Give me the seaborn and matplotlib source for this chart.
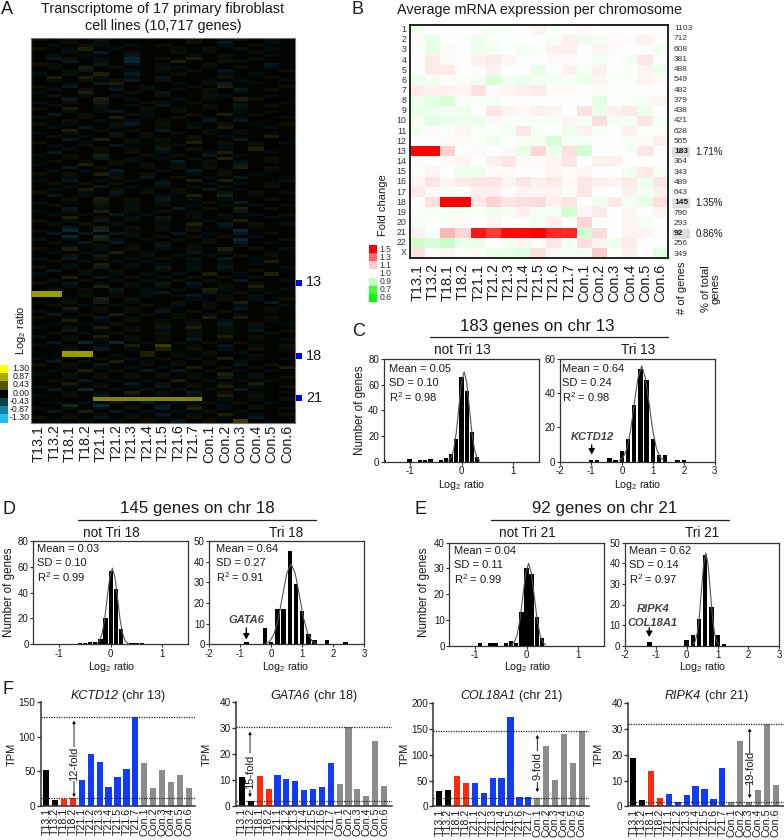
import numpy as np
import pandas as pd
import matplotlib
matplotlib.use("Agg")
import matplotlib.pyplot as plt
from matplotlib.colors import LinearSegmentedColormap, TwoSlopeNorm
from matplotlib.patches import Rectangle
import seaborn as sns

# ---------------- data ----------------
samples = ["T13.1","T13.2","T18.1","T18.2","T21.1","T21.2","T21.3","T21.4","T21.5","T21.6","T21.7",
           "Con.1","Con.2","Con.3","Con.4","Con.5","Con.6"]
# Panel A: rows read coarsely as levels a/b/c (blue), x/y/z (yellow), H/I (bright band)
heat_levels = {".":.02,"a":-.09,"b":-.17,"c":-.27,"x":.08,"y":.15,"z":.3,"H":.8,"I":.68}
heat_rows = [
"a.a.x.....x.ax.a.","..x.a.....x.b..a.",".a.xa.a.x...a.x..","x.ay.a...a.x.a.a.","..a.b.x..x.a..x..",
".a.a..b...a.x..a.",".bx.a.c.x.y.a.a..","..b.x.c..y..xa...","xa..b.a.a..x...b.",".x.y.x..xa.a.x.a.",
"..ab..a.a.x.b...x","a.x.y.b..x..a.a..",".y.ya.a.b...x..x.",".a.x.xb.x..a.a..a","..a.by...a.xb.a..",
"x.b..a.x..a.y...x",".a.x.b.a.a.x.b.x.","a..y..x.b..a.a...",".x.a.a..x..xa..a.","..b.y.a..a.a.yx..",
"a.x.b..xa.x..a..a",".a..x.a.b..x.b.x.","x.y.a..x.a.a.x...","..a.ab.a.x...a.a.",".b.x..xa..x.y.x..",
"a..x.y.a.x.a.a..a","..x.a.a.a..b.b...","x.a..xb.x.a.x.a.x",".a.b.a..a.x.y..a.","..y.x.x.b..a.a...",
"a.a..b.x.a.x.x.a.",".x.a.x.a..x.a..y.","..b.y.a.x.a..b...","x..a..x.a.y.x.a.a",".a.x.b..xa..a.x..",
"..a.x.a.b.x.a.y..",".b..a.x.a..ay..a.","a.x.y..x.x.b.a...","..a.b.a.a.a.y..x.",".x.a.xa..b.x.a.a.",
"a..y.a.x.a.a.b...","..b.x..a.x.x.y.x.",".a.a.b..a.b.a..a.","x.x.ya.x..a.x.a..","..a..x.b.x.a.b..a",
"a.b.a.a.a.y.y...x",".x.x.x..b..a.a.a.","..a.b.a.x.a.x..x.",".a.y.x.a.x.b.a...","x..a.b.x.a..b.x.a",
".b.a.a..a.y.y.a..","..x.y.x.b.a.a..x.","a.a.b.a.x..x.b...",".x..x.a.a.a.a.a.a","..b.a.x..b.x.y.x.",
"a.x.y.a.x.a..b...",".a.a.b.a..x.x.a.x","..y.x.x.b.a.a..a.","x.a.b.a.x..a.y...",".a.x.a..a.y.b.x.a",
"..b.y.x.x.a.a.a..","a.c.c.a.a.x..c...",".b.b.bx..b.a.b.x.","..c.c.a.x.x.x.a..","a.a.ya.a.a.a.c..x",
".x.b.b..x..x.b.a.","..a.x.a.b.a..a...","x.y.a.x.a.x.y.x.a",".a.a.y.a..b.a..a.","..x.b..x.a.a.x.x.",
"a.b.x.a.x.x.b.a..",".x.a.a.a..a.a..y.","..a.y.x.a.a.x.a..","x.a.b.a.b.x.b...a",".b.x.x..x.a.a.x..",
"a..a.a.a.a.y.a.y.","..y.b.x.a.x.x.a..",".a.x.a.a.x.a.b..a","x.b.a.x.b.b.a.x..","..a.y.a.x.a.x.y..",
".x.x.b.a.a.ya.a.a",
"HH.a.x.ab..b.x.a.","HH.x.a.a.ab.a.a..",
"..a.y.x...a.x.a.x","a.x.b.a..x.a.y.b.",".x.a.a.x.a.x.a..a","..y.x.x.a..a.b.x.",
"a.a.a.a.b.x.x..a.",".b.x.y.x.a.a.a...","x.a.b.a..x.y.y.x.","..y.a.x.a.a.a..a.",".a.a.x..x.x.b.x.a",
"a.x.y.a.b.y.a.a..","..b.a.x.a.a.x.b.x",".x.a.x..x.x.a..a.","a.a.y.a.a.a.y.x..","..x.a.x.x.b.a.a.a",
".b.c.c.a.a.x.x...","a.a.a.y.z.a.b.a.x","..x.b.a.y.x.a.x.a",
"..HH...y.a.x.a...","..HH.a.y.x.a..x..",
"a.a.x.a.x.a.y.a.a",".b.a.y.a.a.x.a...","x.x.b..x.x.a.b.x.","..a.a.a.a.y.x.a.y",".a.y.x.b.b.a.a.a.",
"a.x.a.a.x.a.y.x..","..a.x.x.a.x.b.a.x",".x.b.a.a.y.a.a.a.","..y.a.b.x.a.x.y..","a.a.x.a.b.x.y.a.x",
".b.c.a.x.x.a.b...","..a.a.y.a.b.x.a.a","a.x.b.a.a.x.y.x..",
"....IIIIIII.a.a.x",
".a.a.x.b.a.x.x.a.","..c.c.a.b.x.a.a..","a.x.a.x.b.y.a.x.a",".b.y.b.a.a.x.a...","..a.a.a.b.a.y.a.x",
"x.x.b.x.a.x.a.b..",".a.a.a.x.b.x.z.a.",
]
heat_ticks = [1.30, 0.87, 0.43, 0.00, -0.43, -0.87, -1.30]
chr_marks = ["13", "18", "21"]

chromosomes = [str(i) for i in range(1, 23)] + ["X"]
n_genes = [1103,712,608,381,488,549,482,379,438,421,628,565,183,364,343,489,643,145,790,293,92,256,349]
fold_change = [
[.98,1,1,1,1,.99,.99,1,1.02,.99,1,1.01,1,1,1,1,1],
[1.01,.96,1,.99,.97,.99,1,1,1,.99,1.03,.97,.98,1.01,1.01,1.03,1],
[.99,.96,1.01,1,.97,.98,1,.98,.99,1.03,1.03,1,1.02,1.01,1,1,.98],
[1,1.04,1.01,1,1.03,1.04,1.02,1,1,1.01,1.01,1,.98,1,.98,1.05,1],
[1,1.04,1.04,1,1.01,1.03,1,1,.96,1,1.03,.98,1.03,1,.99,1.02,.97],
[.97,.98,1,.99,.98,.94,.98,.97,.98,.98,.99,.97,1.02,.99,.99,1.02,1.01],
[1.04,1.03,1.03,1.02,1.06,1.01,1.02,1.03,1.04,1.01,1.01,1,1.01,.99,.99,1,1],
[.97,.95,.94,.99,.99,.98,1,1,1,1,1,1,.95,1,.99,.98,1.02],
[.96,.97,.98,.97,1,1.05,1.02,1.01,1.03,1.02,1,1.06,.96,1.03,1.04,.97,1],
[.98,.95,.97,.97,.97,1.01,.99,.99,.99,.99,1.02,.98,1.07,.98,.98,1.05,.98],
[.98,1.01,.99,1.02,.99,1,.98,1.05,.99,1,.97,1.03,.98,1,1.03,.99,.99],
[1,1,1.01,1.01,.99,.97,1,.98,.98,.94,.99,.98,1,1,.98,1.01,1.03],
[1.5,1.5,1.09,1,1.01,1,1.01,.96,1.08,.97,1.06,.93,1,1,.99,1.05,1],
[1.01,1,1.01,1.02,1,1.03,1.05,1.01,1.01,1.02,1.05,1,1.03,1.03,1,1,1],
[.99,1.02,1,.97,.97,1.01,1.01,1,1,1.02,1.01,1.02,1,1,.98,1.04,.98],
[1.02,1.05,1.02,1.04,1.05,1.05,1.02,1.05,1.03,1.04,1.01,1.05,1.03,1.02,1.04,.97,1.05],
[1.04,1.01,.99,.99,1.03,1.03,1,1.02,1.02,1.02,.99,1.05,.99,1,1.03,.98,1.03],
[1,1.06,1.5,1.5,1.04,1.09,1.05,1.06,1.07,1.03,1.05,1,.97,1.04,.98,.96,1.06],
[.99,.98,.98,.98,.99,.97,.98,1.03,.98,.98,.93,1.02,1.04,1,1.02,1,1.02],
[.98,1,.99,1.01,1,1.02,1,1,.98,1.03,.99,1.08,.99,1,1.02,.98,1],
[1.03,1,1.14,1.08,1.45,1.38,1.48,1.48,1.5,1.42,1.42,.93,1.07,1,1.02,1.02,.99],
[.92,.94,.91,.96,.96,1,.98,1.02,1,1.05,.98,1.06,1.02,.97,1.04,1,1],
[1.06,1,1.02,.99,1.01,.96,.96,.95,1.06,1.01,.98,.98,1.1,1,1.03,1,.95],
]
fold_ticks = [1.5, 1.3, 1.1, 1.0, 0.9, 0.7, 0.6]

# Histograms: bins, counts, fitted-curve points
c_l_bins = [-1.5,-1,-.8,-.7,-.6,-.4,-.3,-.2,-.1,0,.1,.2,.3]
c_l_cnt  = [1,2,1,1,2,1,3,6,18,66,55,23,4]
c_l_cx   = [-.25,-.2,-.15,-.1,-.05,0,.05,.1,.15,.2,.25,.3,.35]
c_l_cy   = [.8,3,9.5,23,42.5,62,70,62,42.5,23,9.5,3,.8]
c_r_bins = [-1,-.8,-.4,-.2,0,.2,.4,.6,.8,1,1.2,1.4,1.8,2]
c_r_cnt  = [1,1,2,1,6,13,33,54,48,13,4,4,1,1]
c_r_cx   = [-.08,.04,.16,.28,.4,.52,.64,.76,.88,1,1.12,1.24,1.36]
c_r_cy   = [.6,2.5,7.5,18,34,49,56,49,34,18,7.5,2.5,.6]
d_l_bins = [-.6,-.5,-.4,-.3,-.2,-.1,0,.1,.2,.4,.5,.6]
d_l_cnt  = [1,1,2,2,4,20,57,43,12,1,1,1]
d_l_cx   = [-.27,-.22,-.17,-.12,-.07,-.02,.03,.08,.13,.18,.23,.28,.33]
d_l_cy   = [.6,2.6,8,19,36,52,59,52,36,19,8,2.6,.6]
d_r_bins = [-.8,-.2,0,.2,.4,.6,.8,1,1.2,1.4,1.8,2.4]
d_r_cnt  = [1,8,1,17,17,45,29,16,5,2,2,1]
d_r_cx   = [-.17,-.035,.1,.235,.37,.505,.64,.775,.91,1.045,1.18,1.315,1.45]
d_r_cy   = [.4,1.7,5.3,12.7,23.7,34.4,39,34.4,23.7,12.7,5.3,1.7,.4]
e_l_bins = [-.9,-.7,-.6,-.4,-.3,-.2,-.1,0,.1,.2,.3]
e_l_cnt  = [1,1,1,1,2,1,13,30,28,11,3]
e_l_cx   = [-.29,-.235,-.18,-.125,-.07,-.015,.04,.095,.15,.205,.26,.315,.37]
e_l_cy   = [.35,1.4,4.3,10.4,19.4,28.2,32,28.2,19.4,10.4,4.3,1.4,.35]
e_r_bins = [-1.2,0,.2,.4,.6,.8,1,1.2]
e_r_cnt  = [2,3,5,13,44,19,5,1]
e_r_cx   = [.2,.27,.34,.41,.48,.55,.62,.69,.76,.83,.9,.97,1.04]
e_r_cy   = [.5,2,6,14.6,27.3,39.7,45,39.7,27.3,14.6,6,2,.5]

kctd12  = [52,8,10,11,37,75,64,27,41,53,128,62,25,52,34,45,25]
gata6   = [11,2,11.3,6.5,12,10.2,9.5,6,6.5,7.2,16.5,8.3,30.6,6.3,3.6,25,7.5]
col18a1 = [30,32,58,45,45,26,55,55,174,19,18,16,118,52,141,84,146]
ripk4   = [18.7,2.5,13.7,3.1,4.8,1.8,4.4,7.9,6.6,2.9,14.9,1.8,25.3,1.7,6.4,31.8,8.4]
groups  = ["T13"]*2 + ["T18"]*2 + ["T21"]*7 + ["Con"]*6
group_colors = {"T13":"#000000","T18":"#ff2a0a","T21":"#0f3cff","Con":"#8c8c8c"}

# ---------------- set-up ----------------
W, H = 784, 840
sns.set_theme(style="ticks")
plt.rcParams.update({
    "font.family": "Liberation Sans", "mathtext.fontset": "custom",
    "mathtext.rm": "Liberation Sans", "mathtext.it": "Liberation Sans:italic",
    "mathtext.bf": "Liberation Sans:bold", "mathtext.default": "regular",
    "text.color": "#1a1a1a", "axes.labelcolor": "#1a1a1a",
    "xtick.color": "#1a1a1a", "ytick.color": "#1a1a1a",
})
fig = plt.figure(figsize=(W/100, H/100), dpi=100, facecolor="white")
renderer = fig.canvas.get_renderer()

def px_axes(x0, y0, x1, y1):
    return fig.add_axes([x0/W, 1-y1/H, (x1-x0)/W, (y1-y0)/H])

over = fig.add_axes([0, 0, 1, 1], zorder=20)
over.set_xlim(0, W); over.set_ylim(H, 0); over.axis("off")

def txt(x, y, s, size=8, ha="left", va="center", **kw):
    return over.text(x, y, s, fontsize=size, ha=ha, va=va, **kw)

for lab, x, y in [("A",1,10),("B",352,10),("C",352,331),("D",3,509),("E",415,509),("F",3,689)]:
    txt(x, y, lab, 13)

# ---------------- Panel A ----------------
heat_a = np.array([[heat_levels[c] for c in r.ljust(17, ".")[:17]] for r in heat_rows])
cmap_a = LinearSegmentedColormap.from_list("by", ["#20c0f0", "#000000", "#ffff00"])
ax = px_axes(31, 38, 295, 422.5)
sns.heatmap(pd.DataFrame(heat_a, columns=samples), cmap=cmap_a, vmin=-1.3, vmax=1.3, cbar=False,
            xticklabels=samples, yticklabels=False, ax=ax)
ax.tick_params(axis="x", length=0, pad=1.5, labelsize=10.4, labelrotation=90)
for s in ax.spines.values():
    s.set_visible(True); s.set_color("#777777"); s.set_linewidth(.8)
txt(163, 9, "Transcriptome of 17 primary fibroblast", 10.4, ha="center")
txt(163, 26, "cell lines (10,717 genes)", 10.4, ha="center")
txt(21, 330, "Log$_2$ ratio", 8, ha="center", rotation=90)
for lab, y in zip(chr_marks, [283, 356, 398]):
    over.add_patch(Rectangle((296, y-3), 6, 6, color="#0000ff", lw=0))
    txt(306, y-.5, lab, 10.4)

ax = px_axes(0, 365, 8, 422.5)
sns.heatmap(np.array(heat_ticks).reshape(-1, 1), cmap=cmap_a, vmin=-1.3, vmax=1.3, cbar=False,
            xticklabels=False, yticklabels=False, ax=ax)
for i, v in enumerate(heat_ticks):
    txt(29.5, 368.6+i*8.17, f"{v:.2f}", 6.3, ha="right")

# ---------------- Panel B ----------------
norm_b = TwoSlopeNorm(vmin=.6, vcenter=1, vmax=1.5)
cmap_b = LinearSegmentedColormap.from_list("gwr", ["#00ff00", "#ffffff", "#ff0000"])
ax = px_axes(410, 24.5, 667.7, 258)
sns.heatmap(pd.DataFrame(fold_change, columns=samples, index=chromosomes), cmap=cmap_b, norm=norm_b,
            cbar=False, xticklabels=samples, yticklabels=chromosomes, ax=ax)
ax.tick_params(axis="x", length=0, pad=4, labelsize=10.4, labelrotation=90)
ax.tick_params(axis="y", length=0, pad=2.5, labelsize=6.3, labelrotation=0, labelcolor="#333333")
for s in ax.spines.values():
    s.set_visible(True); s.set_color("black"); s.set_linewidth(1.2)
txt(539.5, 10, "Average mRNA expression per chromosome", 10.4, ha="center")
pct = {"183": "1.71%", "145": "1.35%", "92": "0.86%"}
for i, n in enumerate(n_genes):
    y = 28.6 + i*10.25
    if str(n) in pct:
        over.add_patch(Rectangle((672, y-5), 18, 10, color="#dedede", lw=0))
        txt(674, y, str(n), 6, fontweight="bold")
        txt(695.7, y, pct[str(n)], 7)
    else:
        txt(674, y, str(n), 6, color="#333333")
txt(682, 262, "# of genes", 8, ha="center", va="top", rotation=90)
txt(711, 265, "% of total\ngenes", 8, ha="center", va="top", rotation=90, linespacing=.9)

ax = px_axes(369, 245, 377, 302)
sns.heatmap(np.array(fold_ticks).reshape(-1, 1), cmap=cmap_b, norm=norm_b, cbar=False,
            xticklabels=False, yticklabels=False, ax=ax)
for i, v in enumerate(fold_ticks):
    txt(379.5, 249+i*8.15, f"{v:.1f}", 6.2, color="#333333")
txt(383, 205, "Fold change", 8, ha="center", rotation=90)

# ---------------- Histograms ----------------
def hist(box, bins, cnt, cx, cy, xlim, xticks, ymax, yticks, stats, sx, sy, width):
    ax = px_axes(*box)
    sns.barplot(x=bins, y=cnt, native_scale=True, color="black", saturation=1, width=width,
                linewidth=0, ax=ax)
    sns.lineplot(x=cx, y=cy, sort=False, estimator=None, color="#555555", lw=.8, ax=ax)
    ax.set_xlim(*xlim); ax.set_ylim(0, ymax)
    ax.set_xticks(xticks); ax.set_yticks(yticks)
    ax.set_xticklabels([str(t) for t in xticks])
    ax.tick_params(axis="both", length=2.2, width=.8, pad=1.2, labelsize=7, color="#333333")
    for s in ax.spines.values():
        s.set_color("#333333"); s.set_linewidth(.9)
    for i, s in enumerate(stats):
        txt(sx, sy+i*13.8, s, 8)
    return ax

def header(cx, y, x0, x1, title, l_cx, left, r_cx, right):
    txt(cx, y, title, 12.2, ha="center")
    over.plot([x0, x1], [y+11, y+11], color="#222222", lw=.9)
    txt(l_cx, y+24, left, 9.8, ha="center")
    txt(r_cx, y+24, right, 9.8, ha="center")

def arrow(x, y0, y1, lw=1, ms=10):
    over.annotate("", xy=(x, y1), xytext=(x, y0), annotation_clip=False,
                  arrowprops=dict(arrowstyle="-|>,head_width=.18,head_length=.32", color="black",
                                  lw=lw, shrinkA=0, shrinkB=0, mutation_scale=ms))

gene_style = dict(fontweight="bold", fontstyle="italic", color="#444444")
log2 = "Log$_2$ ratio"

# C
header(537, 326, 430, 668, "183 genes on chr 13", 462, "not Tri 13", 637.7, "Tri 13")
hist((383.7,359,539.3,461.7), c_l_bins, c_l_cnt, c_l_cx, c_l_cy, (-1.5,1.5), [-1,0,1], 80, [0,20,40,60,80],
     ["Mean = 0.05","SD = 0.10","R$^2$ = 0.98"], 389.3, 369, .84)
hist((560,359,714.7,461.7), c_r_bins, c_r_cnt, c_r_cx, c_r_cy, (-2,3), [-2,-1,0,1,2,3], 60, [0,20,40,60],
     ["Mean = 0.64","SD = 0.24","R$^2$ = 0.98"], 562.5, 369, .72)
txt(360, 410, "Number of genes", 8.4, ha="center", rotation=90)
txt(462, 485, log2, 7.7, ha="center"); txt(638, 485, log2, 7.7, ha="center")
txt(592, 436.7, "KCTD12", 8, ha="center", **gene_style)
arrow(591.7, 445, 454.5)

# D
header(197, 509, 78, 316, "145 genes on chr 18", 111.7, "not Tri 18", 286, "Tri 18")
hist((33.3,541,188.3,644.3), d_l_bins, d_l_cnt, d_l_cx, d_l_cy, (-1.5,1.5), [-1,0,1], 80, [0,20,40,60,80],
     ["Mean = 0.03","SD = 0.10","R$^2$ = 0.99"], 36.7, 549.5, .84)
hist((209.3,541,364,644.3), d_r_bins, d_r_cnt, d_r_cx, d_r_cy, (-2,3), [-2,-1,0,1,2,3], 50, [0,10,20,30,40,50],
     ["Mean = 0.64","SD = 0.27","R$^2$ = 0.91"], 215.7, 549.5, .72)
txt(9.5, 592.7, "Number of genes", 8.4, ha="center", rotation=90)
txt(111.7, 667, log2, 7.7, ha="center"); txt(286, 667, log2, 7.7, ha="center")
txt(246.5, 620, "GATA6", 8, ha="center", **gene_style)
arrow(246.3, 628, 639.5)

# E
header(604.3, 509, 491, 728.7, "92 genes on chr 21", 527, "not Tri 21", 702, "Tri 21")
hist((449.3,542.7,603.7,645.7), e_l_bins, e_l_cnt, e_l_cx, e_l_cy, (-1.5,1.5), [-1,0,1], 40, [0,10,20,30,40],
     ["Mean = 0.04","SD = 0.11","R$^2$ = 0.99"], 454.3, 551, .84)
hist((625,542.7,779.3,645.7), e_r_bins, e_r_cnt, e_r_cx, e_r_cy, (-2,3), [-2,-1,0,1,2,3], 50, [0,10,20,30,40,50],
     ["Mean = 0.62","SD = 0.14","R$^2$ = 0.97"], 628.7, 551, .72)
txt(424, 592.7, "Number of genes", 8.4, ha="center", rotation=90)
txt(527.7, 667, log2, 7.7, ha="center"); txt(702.7, 667, log2, 7.7, ha="center")
txt(652.7, 609, "RIPK4", 8, ha="center", **gene_style)
txt(653, 623, "COL18A1", 8, ha="center", **gene_style)
arrow(649.3, 627.7, 637)

# ---------------- Panel F ----------------
def tpm(box, first, step, vals, ymax, yticks, lines, gene, chrom, title_x):
    x0, y0, x1, y1 = box
    ax = px_axes(*box)
    df = pd.DataFrame({"s": samples, "v": vals, "g": groups})
    sns.barplot(data=df, x="s", y="v", hue="g", palette=group_colors, dodge=False, legend=False,
                saturation=1, width=.7, linewidth=0, ax=ax)
    for v in lines:
        ax.axhline(v, color="#222222", lw=.9, ls=(0, (1, 1)), zorder=5)
    ax.set_xlim(-(first-x0)/step, (x1-first)/step); ax.set_ylim(0, ymax)
    ax.set_yticks(yticks)
    ax.set_xlabel(""); ax.set_ylabel("")
    ax.tick_params(axis="x", length=0, pad=1.5, labelsize=7.7, labelrotation=90)
    ax.tick_params(axis="y", length=2.6, width=1, pad=1.2, labelsize=7.2, color="#333333")
    sns.despine(ax=ax)
    for s in ["left", "bottom"]:
        ax.spines[s].set_linewidth(1.1); ax.spines[s].set_color("#333333")
    ax.patch.set_alpha(0)
    # italic gene name followed by upright chromosome, centred together
    t1 = txt(0, 695.7, gene, 9, fontstyle="italic")
    t2 = txt(0, 695.7, f"({chrom})", 9)
    w1 = t1.get_window_extent(renderer).width
    w2 = t2.get_window_extent(renderer).width
    gap = 3.5
    t1.set_x(title_x-(w1+w2+gap)/2)
    t2.set_x(title_x-(w1+w2+gap)/2+w1+gap)
    txt(x0-29, (y0+y1)/2, "TPM", 8, ha="center", rotation=90)

tpm((40.7,702.3,195,805.7), 46.3, 8.9, kctd12, 150, [0,50,100,150], [128,10.5], "KCTD12", "chr 13", 117.7)
tpm((236,702.3,391.7,805.7), 242, 8.875, gata6, 40, [0,10,20,30,40], [30.6,2], "GATA6", "chr 18", 313.7)
tpm((433.3,703.3,588.7,806.3), 439.3, 8.9, col18a1, 200, [0,50,100,150,200], [146,16], "COL18A1", "chr 21", 511)
tpm((628,703.3,784,806.3), 633.3, 8.9, ripk4, 40, [0,10,20,30,40], [31.8,1.7], "RIPK4", "chr 21", 706.3)

def fold(x, top, bot, t0, t1, s):
    txt(x, (t0+t1)/2, s, 8, ha="center", rotation=90)
    arrow(x, t0-1, top, lw=.6, ms=5)
    arrow(x, t1+1, bot, lw=.6, ms=5)

fold(74, 720.7, 797, 748, 780, "12-fold")
fold(250, 731.7, 797, 754, 789, "15-fold")
fold(537.3, 735, 792, 752, 781, "9-fold")
fold(749.7, 728.5, 798, 754, 782, "19-fold")

fig.savefig("out.png", dpi=100, facecolor="white")
